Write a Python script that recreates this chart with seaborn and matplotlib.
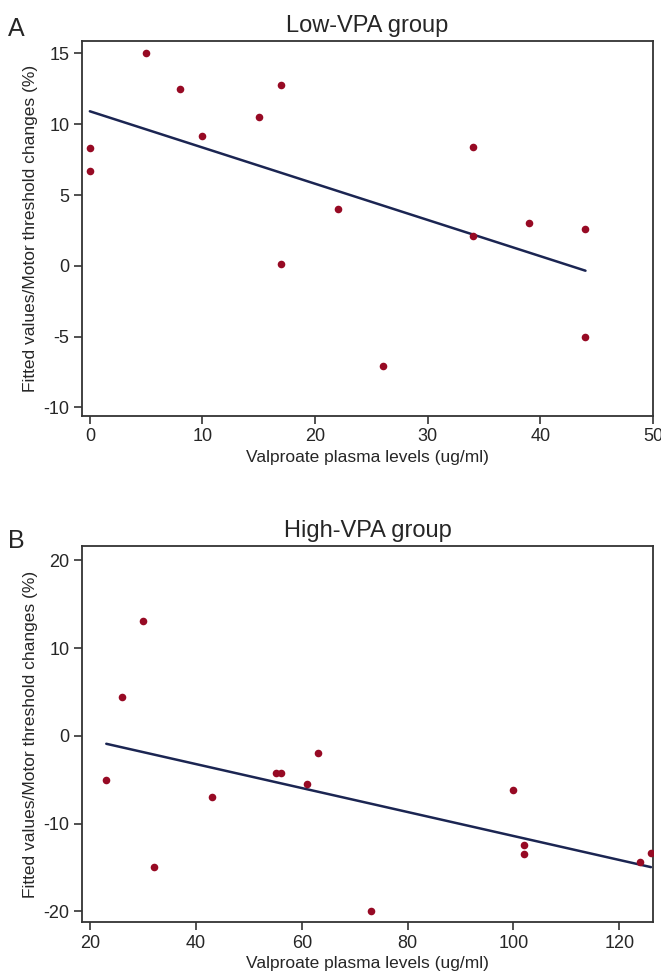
import numpy as np
import pandas as pd
import matplotlib
matplotlib.use("Agg")
import matplotlib.pyplot as plt
import seaborn as sns

# Low-VPA group
low_vpa = [0, 0, 5, 8, 10, 15, 17, 17, 22, 26, 34, 34, 39, 44, 44]
low_mt = [8.3, 6.7, 15.0, 12.5, 9.2, 10.5, 12.8, 0.1, 4.0, -7.1, 8.4, 2.1, 3.0, 2.6, -5.0]

# High-VPA group
high_vpa = [23, 26, 30, 32, 43, 55, 56, 61, 63, 73, 100, 102, 102, 124, 126]
high_mt = [-5.0, 4.4, 13.1, -14.9, -7.0, -4.2, -4.2, -5.5, -1.9, -20.0, -6.1, -12.4, -13.5, -14.4, -13.3]

low_xticks = [0, 10, 20, 30, 40, 50]
low_yticks = [-10, -5, 0, 5, 10, 15]
high_xticks = [20, 40, 60, 80, 100, 120]
high_yticks = [-20, -10, 0, 10, 20]

df_low = pd.DataFrame({'vpa': low_vpa, 'mt': low_mt})
df_high = pd.DataFrame({'vpa': high_vpa, 'mt': high_mt})

sns.set_theme(style="ticks")
plt.rcParams['font.family'] = ['Liberation Sans', 'DejaVu Sans']
plt.rcParams['axes.unicode_minus'] = False

dot_color = '#970a24'
line_color = '#1b2552'

fig = plt.figure(figsize=(6.61, 9.73), dpi=100)
ax1 = fig.add_axes([0.124, 0.5725, 0.864, 0.385])
ax2 = fig.add_axes([0.124, 0.0524, 0.864, 0.386])

panels = [
    (ax1, df_low, 'Low-VPA group', 'A', 0.983, low_xticks, low_yticks, (-0.7, 50), (-10.6, 15.85)),
    (ax2, df_high, 'High-VPA group', 'B', 0.456, high_xticks, high_yticks, (18.4, 126.4), (-21.2, 21.6)),
]

for ax, d, title, letter, ly, xt, yt, xl, yl in panels:
    sns.regplot(x='vpa', y='mt', data=d, ax=ax, ci=None, truncate=True,
                scatter_kws={'s': 30, 'color': dot_color, 'linewidths': 0, 'alpha': 1, 'zorder': 3},
                line_kws={'color': line_color, 'linewidth': 1.8, 'zorder': 2})
    ax.set_xticks(xt)
    ax.set_yticks(yt)
    ax.set_xlim(*xl)
    ax.set_ylim(*yl)
    ax.set_title(title, fontsize=17, pad=7)
    ax.set_xlabel('Valproate plasma levels (ug/ml)', fontsize=12.5, labelpad=3)
    ax.set_ylabel('Fitted values/Motor threshold changes (%)', fontsize=12.5, labelpad=4)
    ax.tick_params(axis='both', labelsize=13, length=6, width=1.2, color='#333333', pad=3)
    for s in ax.spines.values():
        s.set_visible(True)
        s.set_linewidth(1.3)
        s.set_color('#333333')
    fig.text(0.012, ly, letter, fontsize=18, ha='left', va='top')

fig.savefig('out.png', dpi=100)
